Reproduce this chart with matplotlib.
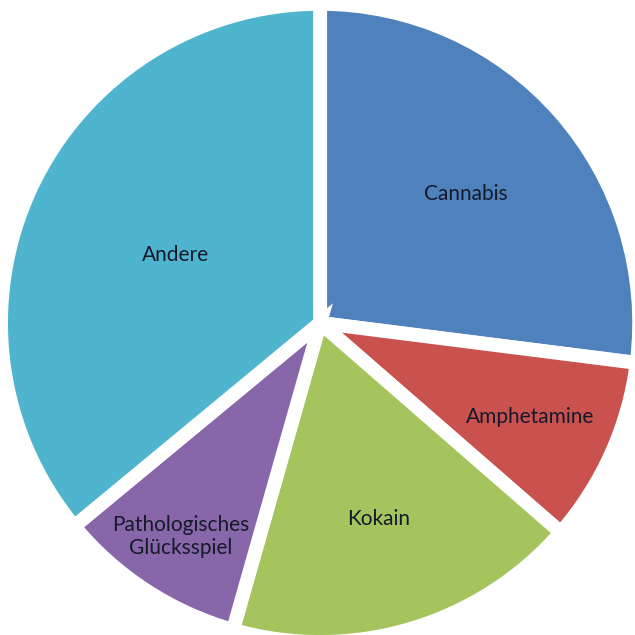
import numpy as np
import matplotlib.pyplot as plt

labels = ["Cannabis", "Amphetamine", "Kokain", "Pathologisches\nGlücksspiel", "Andere"]
values = [27.0, 9.4, 18.0, 9.6, 36.0]
colors = ["#4F81BD", "#C9524F", "#A6C45E", "#8767AA", "#4FB5CF"]
# how far out from the centre each label sits (fraction of radius)
label_r = [0.61, 0.72, 0.64, 0.80, 0.50]

fig = plt.figure(figsize=(6.35, 6.35), dpi=100)
ax = fig.add_axes([0.0016, -0.011, 1.005, 1.005])

wedges, _ = ax.pie(values, colors=colors, startangle=90, counterclock=False,
                   radius=1.0,
                   wedgeprops=dict(edgecolor="white", linewidth=10))

for w, lab, r in zip(wedges, labels, label_r):
    ang = np.deg2rad((w.theta1 + w.theta2) / 2)
    ax.text(r * np.cos(ang), r * np.sin(ang), lab, ha="center", va="center",
            fontsize=15, family="Lato", color="#151a2a", linespacing=1.2)

ax.set_xlim(-1, 1)
ax.set_ylim(-1, 1)
ax.set_aspect("equal")
ax.axis("off")

fig.savefig("out.png", dpi=100)
